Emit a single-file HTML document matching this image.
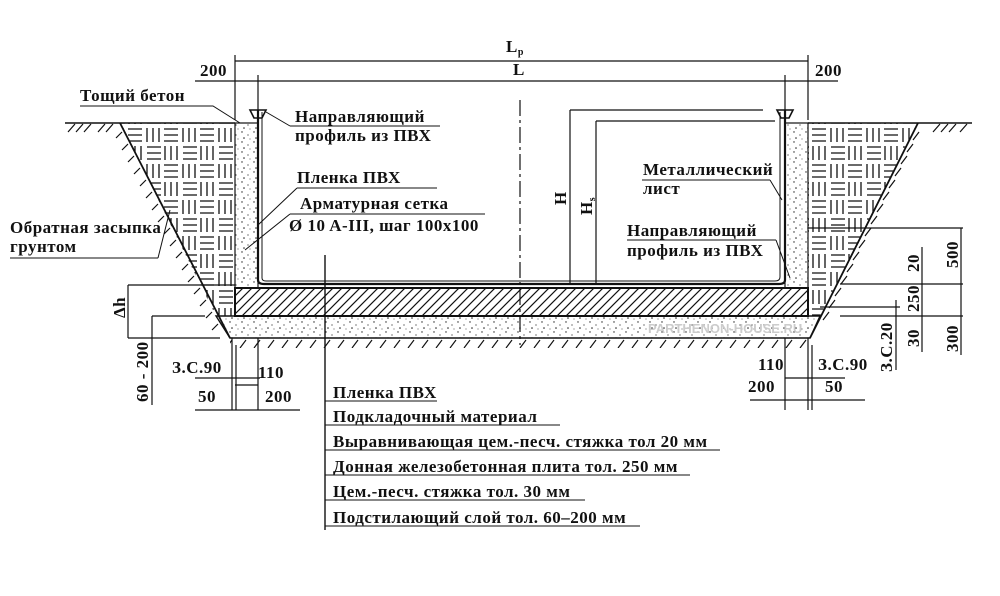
<!DOCTYPE html>
<html><head><meta charset="utf-8"><style>
html,body{margin:0;padding:0;background:#fff}
svg{display:block}
text{font-family:"Liberation Serif","DejaVu Serif",serif;font-size:17px;letter-spacing:0.5px;fill:#111;font-weight:bold}
</style></head><body>
<svg width="1000" height="596" viewBox="0 0 1000 596" xmlns="http://www.w3.org/2000/svg">
<defs>
<pattern id="weave" width="36" height="36" patternUnits="userSpaceOnUse">
<g stroke="#111" stroke-width="1.3">
<path d="M3 3h14M3 9h14M3 15h14"/>
<path d="M21 2v14M27 2v14M33 2v14"/>
<path d="M3 20v14M9 20v14M15 20v14"/>
<path d="M20 21h14M20 27h14M20 33h14"/>
</g></pattern>
<pattern id="diag" width="9" height="9" patternUnits="userSpaceOnUse">
<path d="M0 9L9 0M-2 2L2 -2M7 11L11 7" stroke="#111" stroke-width="1.2"/></pattern>
<pattern id="dots" width="12" height="10" patternUnits="userSpaceOnUse">
<circle cx="2" cy="2" r=".7" fill="#222"/><circle cx="8" cy="5" r=".6" fill="#222"/><circle cx="4" cy="8" r=".8" fill="#222"/><circle cx="10" cy="9" r=".5" fill="#222"/></pattern>
<pattern id="gh" width="14" height="12" patternUnits="userSpaceOnUse">
<path d="M2 12L8 4" stroke="#111" stroke-width="1.2"/></pattern>
</defs>
<g stroke="#111" fill="none" stroke-width="1.2">
<path d="M235 61H808M258 81H785M195 81H258M785 81H838M235 55V120M808 55V120M258 75V110M785 75V110"/>
<path d="M65 123H235M808 123H972" stroke-width="1.6"/>
<path d="M68 132l7 -8M76 132l7 -8M84 132l7 -8M98 132l7 -8M106 132l7 -8M933 132l7 -8M941 132l7 -8M949 132l7 -8M960 132l7 -8"/>
</g>
<polygon points="120,123 235,123 235,316 216,316" fill="url(#weave)"/>
<polygon points="808,123 918,123 820,316 808,316" fill="url(#weave)"/>
<rect x="235" y="123" width="23" height="165" fill="url(#dots)" stroke="#111" stroke-width="1.2"/>
<rect x="785" y="123" width="23" height="165" fill="url(#dots)" stroke="#111" stroke-width="1.2"/>
<rect x="235" y="288" width="573" height="28" fill="url(#diag)" stroke="#111" stroke-width="2"/>
<polygon points="216,316 820,316 810,338 230,338" fill="url(#dots)" stroke="#111" stroke-width="1.4"/>
<rect x="230" y="339" width="580" height="9" fill="url(#gh)"/>
<g stroke="#111" fill="none">
<path d="M120 123L230 338M918 123L810 338" stroke-width="1.8"/>
<path d="M116 138l6 -6M122 150l6 -6M128 162l6 -6M134 174l6 -6M140 186l6 -6M146 198l6 -6M152 210l6 -6M158 222l6 -6M164 234l6 -6M170 246l6 -6M176 258l6 -6M182 270l6 -6M188 282l6 -6M194 294l6 -6M200 306l6 -6M206 318l6 -6M212 330l6 -6" stroke-width="1.2"/>
<path d="M913 140l6 -8M907 152l6 -8M901 164l6 -8M895 176l6 -8M889 188l6 -8M883 200l6 -8M877 212l6 -8M871 224l6 -8M865 236l6 -8M859 248l6 -8M853 260l6 -8M847 272l6 -8M841 284l6 -8M835 296l6 -8M829 308l6 -8M823 320l6 -8" stroke-width="1.2"/>
<path d="M258 110V280Q258 284 264 284H779Q785 284 785 280V110" stroke-width="2.2"/>
<path d="M262 112V278Q262 281 266 281H775Q780 281 780 277V112" stroke-width="1"/>
<path d="M250 110H266L262 118H254Z M777 110H793L789 118H781Z" stroke-width="1.6"/>
<path d="M520 100V345" stroke-width="1.2" stroke-dasharray="16 4 3 4"/>
<path d="M325 255V530" stroke-width="1.4"/>
<path d="M570 110H763M570 110V283M596 121H775M596 121V283" stroke-width="1.2"/>
<path d="M808 228H963M961 228V355M922 247V352M840 284H963M840 316H963M820 307H900M896 300V370" stroke-width="1.2"/>
<path d="M128 285H235M128 285V338M128 338H220M152 316H205M152 316V405M232 338V410M236 345V410M258 338V410M195 378H260M195 410H300M235 385H258" stroke-width="1.2"/>
<path d="M785 338V410M808 338V410M812 345V410M750 400H865M785 378H845" stroke-width="1.2"/>
<path d="M80 106H213L240 123M290 126H440M290 126L266 112M297 188H437M297 188L258 225M290 214H485M290 214L245 250M158 258H10M158 258L170 210M642 180H770M770 180L782 200M627 240H776M776 240L790 278"/>
<path d="M325 401H437M325 425H560M325 450H720M325 475H690M325 500H585M325 526H640"/>
</g>
<text x="506" y="52">L<tspan font-size="10" dy="3">p</tspan></text>
<text x="513" y="75">L</text>
<text x="200" y="76">200</text>
<text x="815" y="76">200</text>
<text x="80" y="101">Тощий бетон</text>
<text x="295" y="122">Направляющий</text>
<text x="295" y="141">профиль из ПВХ</text>
<text x="297" y="183">Пленка ПВХ</text>
<text x="300" y="209">Арматурная сетка</text>
<text x="289" y="231">Ø 10 A-III, шаг 100x100</text>
<text x="10" y="233">Обратная засыпка</text>
<text x="10" y="252">грунтом</text>
<text x="643" y="175">Металлический</text>
<text x="643" y="194">лист</text>
<text x="627" y="236">Направляющий</text>
<text x="627" y="256">профиль из ПВХ</text>
<text transform="translate(566,205) rotate(-90)">H</text>
<text transform="translate(592,215) rotate(-90)">H<tspan font-size="10" dy="3">s</tspan></text>
<text transform="translate(919,272) rotate(-90)">20</text>
<text transform="translate(958,268) rotate(-90)">500</text>
<text transform="translate(919,312) rotate(-90)">250</text>
<text transform="translate(919,347) rotate(-90)">30</text>
<text transform="translate(958,352) rotate(-90)">300</text>
<text transform="translate(892,372) rotate(-90)">З.С.20</text>
<text transform="translate(125,318) rotate(-90)">Δh</text>
<text transform="translate(148,402) rotate(-90)">60 - 200</text>
<text x="172" y="373">З.С.90</text>
<text x="258" y="378">110</text>
<text x="198" y="402">50</text>
<text x="265" y="402">200</text>
<text x="758" y="370">110</text>
<text x="818" y="370">З.С.90</text>
<text x="748" y="392">200</text>
<text x="825" y="392">50</text>
<text x="333" y="398">Пленка ПВХ</text>
<text x="333" y="422">Подкладочный материал</text>
<text x="333" y="447">Выравнивающая цем.-песч. стяжка тол 20 мм</text>
<text x="333" y="472">Донная железобетонная плита тол. 250 мм</text>
<text x="333" y="497">Цем.-песч. стяжка тол. 30 мм</text>
<text x="333" y="523">Подстилающий слой тол. 60–200 мм</text>
<text x="648" y="333" style="fill:#ccc;font-family:'Liberation Sans',sans-serif;font-size:13px;letter-spacing:0">PARTHENON-HOUSE.RU</text>
</svg>
</body></html>
